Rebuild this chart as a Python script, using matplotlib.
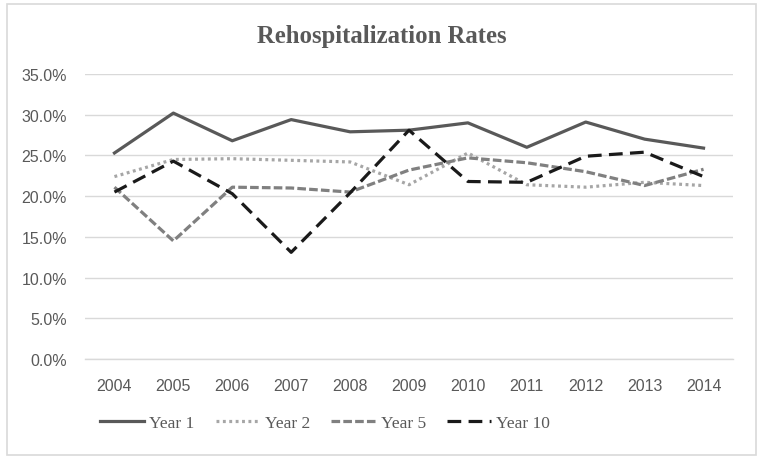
import matplotlib
matplotlib.use("Agg")
import matplotlib.pyplot as plt
from matplotlib.ticker import FuncFormatter

years = ["2004", "2005", "2006", "2007", "2008", "2009", "2010", "2011", "2012", "2013", "2014"]
year1 = [25.3, 30.2, 26.8, 29.4, 27.9, 28.1, 29.0, 26.0, 29.1, 27.0, 25.9]
year2 = [22.4, 24.5, 24.6, 24.4, 24.2, 21.4, 25.3, 21.4, 21.1, 21.7, 21.3]
year5 = [21.1, 14.5, 21.1, 21.0, 20.5, 23.2, 24.7, 24.1, 23.0, 21.3, 23.3]
year10 = [20.5, 24.3, 20.3, 13.1, 20.4, 28.1, 21.8, 21.7, 24.9, 25.4, 22.4]

W, H = 763, 464
fig = plt.figure(figsize=(W / 100, H / 100), dpi=100)
fig.patch.set_facecolor("white")
# outer chart-area border
border = plt.Rectangle((7 / W, 1 - 456 / H), (756 - 7) / W, (456 - 5) / H, transform=fig.transFigure,
                       fill=False, edgecolor="#d9d9d9", linewidth=1.2)
fig.add_artist(border)

ax = fig.add_axes([85 / W, 1 - 360 / H, (733 - 85) / W, (360 - 75) / H])
x = list(range(len(years)))
lw = 2.3
ax.plot(x, year1, color="#595959", linewidth=lw, linestyle="-", label="Year 1")
ax.plot(x, year2, color="#a6a6a6", linewidth=lw, linestyle=(0, (0.9, 1.1)), label="Year 2")
ax.plot(x, year5, color="#808080", linewidth=lw, linestyle=(0, (2.7, 1.0)), label="Year 5")
ax.plot(x, year10, color="#1a1a1a", linewidth=lw, linestyle=(0, (4.3, 2.3)), label="Year 10")

ax.set_xlim(-0.5, len(years) - 0.5)
ax.set_ylim(0, 35)
ax.set_yticks([0, 5, 10, 15, 20, 25, 30, 35])
ax.yaxis.set_major_formatter(FuncFormatter(lambda v, p: f"{v:.1f}%"))
ax.set_xticks(x)
ax.set_xticklabels(years)
ax.grid(axis="y", color="#d9d9d9", linewidth=1.0)
ax.set_axisbelow(True)
for s in ["top", "right", "left"]:
    ax.spines[s].set_visible(False)
ax.spines["bottom"].set_color("#d9d9d9")
ax.spines["bottom"].set_linewidth(1.0)
ax.tick_params(axis="both", length=0, colors="#595959", labelsize=11.5)
ax.tick_params(axis="x", pad=14)
ax.tick_params(axis="y", pad=13)
for t in ax.get_xticklabels() + ax.get_yticklabels():
    t.set_fontfamily("Liberation Sans")

fig.text(0.5, 1 - 37 / H, "Rehospitalization Rates", ha="center", va="center",
         fontfamily="Liberation Serif", fontweight="bold", fontsize=17.8, color="#595959")

leg = fig.legend(loc="center left", bbox_to_anchor=(100 / W, 1 - 424 / H), ncol=4, frameon=False,
                 prop={"family": "Liberation Serif", "size": 12.5}, handlelength=2.55,
                 handletextpad=0.3, columnspacing=1.2, borderpad=0, borderaxespad=0)
for t in leg.get_texts():
    t.set_color("#595959")

fig.savefig("out.png", dpi=100, facecolor="white")
